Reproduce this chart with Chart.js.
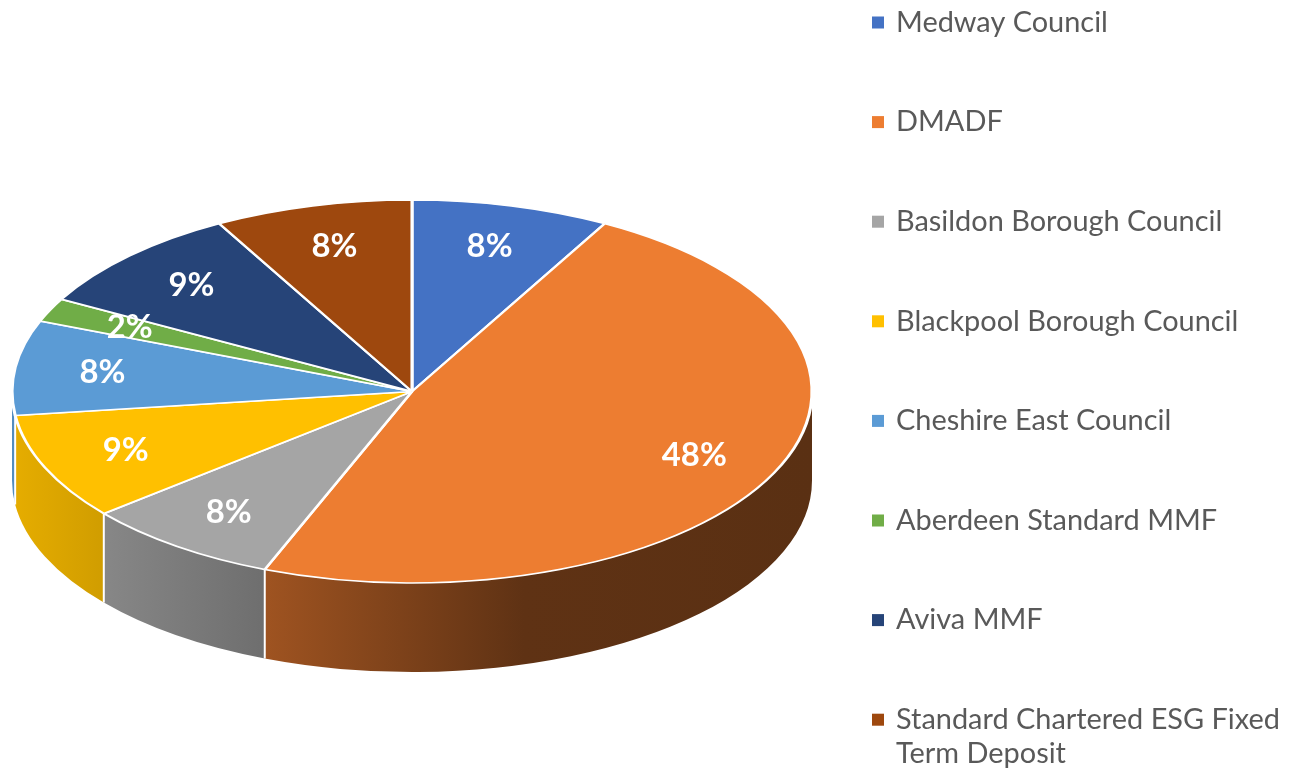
<!DOCTYPE html>
<html><head><meta charset="utf-8">
<script src="https://cdn.jsdelivr.net/npm/chart.js@4.4.1/dist/chart.umd.min.js"></script>
<style>html,body{margin:0;padding:0;background:#fff;overflow:hidden}canvas{display:block}</style>
</head><body>
<canvas id="c" width="1305" height="778"></canvas>
<script>
// ---- data ----
const categories = ['Medway Council', 'DMADF', 'Basildon Borough Council', 'Blackpool Borough Council',
  'Cheshire East Council', 'Aberdeen Standard MMF', 'Aviva MMF', 'Standard Chartered ESG Fixed Term Deposit'];
const shares = [8, 48, 8, 9, 8, 2, 9, 8];
const sliceColors = ['#4472C4', '#ED7D31', '#A5A5A5', '#FFC000', '#5B9BD5', '#70AD47', '#264478', '#9E480E'];

// ---- layout / style ----
const PIE = {cx: 412, cy: 391.5, rx: 400, ry: 191.5, depth: 89, labelR: 0.78};
const SIDE_STOPS = [[0, 0.9], [0.31, 0.675], [0.64, 0.40], [1, 0.38]];
const LEG = {boxX: 872, textX: 896, y0: 22.5, step: 99.6, box: 12, maxW: 394, lineH: 34,
  color: '#595959', family: 'Lato', targetW: 212};
const FONT_FAMILY = 'Lato';

function shade(hex, f) {
  const n = parseInt(hex.slice(1), 16);
  const r = Math.round(((n >> 16) & 255) * f), g = Math.round(((n >> 8) & 255) * f), b = Math.round((n & 255) * f);
  return `rgb(${r},${g},${b})`;
}

function fitFont(ctx, weight, text, targetW) {
  ctx.font = `${weight} 100px ${FONT_FAMILY}`;
  const w = ctx.measureText(text).width;
  return 100 * targetW / w;
}

const pie3d = {
  id: 'pie3d',
  beforeDatasetsDraw(chart) {
    const ctx = chart.ctx;
    const meta = chart.getDatasetMeta(0);
    const {cx, cy, rx, ry, depth} = PIE;
    ctx.save();
    meta.data.forEach((arc, i) => {
      const s = Math.max(arc.startAngle, 0), e = Math.min(arc.endAngle, Math.PI);
      if (e <= s) return;
      const g = ctx.createLinearGradient(cx - rx, 0, cx + rx, 0);
      SIDE_STOPS.forEach(([t, f]) => g.addColorStop(t, shade(sliceColors[i], f)));
      ctx.beginPath();
      ctx.ellipse(cx, cy, rx, ry, 0, s, e);
      ctx.lineTo(cx + rx * Math.cos(e), cy + ry * Math.sin(e) + depth);
      ctx.ellipse(cx, cy + depth, rx, ry, 0, e, s, true);
      ctx.closePath();
      ctx.fillStyle = g;
      ctx.fill();
    });
    ctx.strokeStyle = '#ffffff';
    ctx.lineWidth = 2;
    meta.data.forEach(arc => {
      const a = arc.endAngle;
      if (a > 0.001 && a < Math.PI - 0.001) {
        const x = cx + rx * Math.cos(a), y = cy + ry * Math.sin(a);
        ctx.beginPath();
        ctx.moveTo(x, y);
        ctx.lineTo(x, y + depth);
        ctx.stroke();
      }
    });
    ctx.restore();
    const a0 = meta.data[0];
    ctx.save();
    ctx.translate(cx, cy);
    ctx.scale(rx / a0.outerRadius, ry / a0.outerRadius);
    ctx.translate(-a0.x, -a0.y);
  },
  afterDatasetsDraw(chart) {
    const ctx = chart.ctx;
    ctx.restore();
    const meta = chart.getDatasetMeta(0);
    const total = shares.reduce((a, b) => a + b, 0);
    const {cx, cy, rx, ry, labelR} = PIE;
    const fs = fitFont(ctx, 'bold', '48%', 65);
    ctx.save();
    ctx.font = `bold ${fs}px ${FONT_FAMILY}`;
    ctx.fillStyle = '#ffffff';
    ctx.textAlign = 'center';
    ctx.textBaseline = 'middle';
    meta.data.forEach((arc, i) => {
      const m = (arc.startAngle + arc.endAngle) / 2;
      const x = cx + rx * labelR * Math.cos(m), y = cy + ry * labelR * Math.sin(m);
      ctx.fillText(Math.round(shares[i] / total * 100) + '%', x, y);
    });
    ctx.restore();
  },
  afterDraw(chart) {
    const ctx = chart.ctx;
    const fs = fitFont(ctx, 'normal', categories[0], LEG.targetW);
    ctx.save();
    ctx.font = `${fs}px ${FONT_FAMILY}`;
    ctx.textBaseline = 'middle';
    ctx.textAlign = 'left';
    categories.forEach((name, i) => {
      const y = LEG.y0 + LEG.step * i;
      ctx.fillStyle = sliceColors[i];
      ctx.fillRect(LEG.boxX, y - LEG.box / 2, LEG.box, LEG.box);
      ctx.fillStyle = LEG.color;
      const words = name.split(' ');
      const lines = [];
      let cur = '';
      words.forEach(w => {
        const t = cur ? cur + ' ' + w : w;
        if (cur && ctx.measureText(t).width > LEG.maxW) { lines.push(cur); cur = w; } else cur = t;
      });
      lines.push(cur);
      lines.forEach((ln, k) => ctx.fillText(ln, LEG.textX, y + k * LEG.lineH));
    });
    ctx.restore();
  }
};

new Chart(document.getElementById('c'), {
  type: 'pie',
  data: {
    labels: categories,
    datasets: [{
      data: shares,
      backgroundColor: sliceColors,
      borderColor: '#ffffff',
      borderWidth: 3,
      clip: false
    }]
  },
  options: {
    responsive: false,
    animation: false,
    events: [],
    rotation: 0,
    layout: {padding: 0},
    plugins: {legend: {display: false}, tooltip: {enabled: false}, title: {display: false}}
  },
  plugins: [pie3d]
});
</script>
</body></html>
